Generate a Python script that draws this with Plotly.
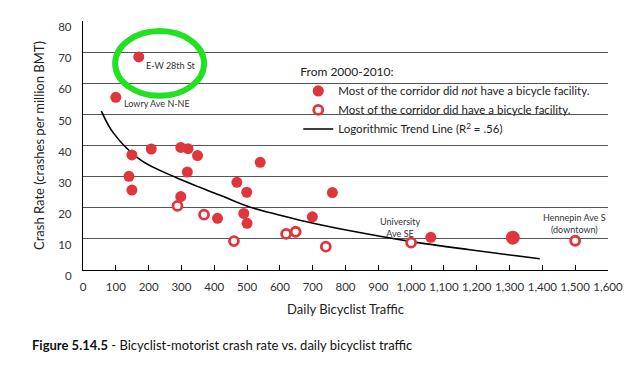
import plotly.graph_objects as go

# ---- data ----
no_facility_x = [170, 100, 149, 208, 298, 320, 349, 318, 540, 140, 149, 298, 410, 469, 499, 490, 500, 699, 760, 1060, 1310]
no_facility_y = [68.5, 55.5, 37.0, 38.9, 39.4, 39.0, 36.8, 31.5, 34.6, 30.1, 25.7, 23.6, 16.6, 28.2, 25.0, 18.2, 15.0, 17.1, 24.9, 10.5, 10.4]

facility_x = [288, 369, 460, 619, 648, 740, 1000, 1500]
facility_y = [20.6, 17.8, 9.3, 11.6, 12.3, 7.5, 8.8, 9.4]

trend_x = [56, 93, 175, 282, 358, 428, 510, 601, 661, 814, 997, 1179, 1392]
trend_y = [51.1, 44.0, 35.4, 29.8, 26.5, 23.6, 20.2, 17.6, 16.0, 12.6, 9.2, 6.5, 3.6]

x_ticks = list(range(0, 1700, 100))
y_ticks = list(range(0, 90, 10))

labels = [
    # (text, x, y, anchor)
    ("E-W 28th St", 187, 65.9, "left"),
    ("Lowry Ave N-NE", 120, 53.4, "left"),
    ("University<br>Ave SE", 967, 13.6, "center"),
    ("Hennepin Ave S<br>(downtown)", 1499, 15.0, "center"),
]

RED = "#e1353c"
FONT = "Lato"

fig = go.Figure()

fig.add_trace(go.Scatter(
    x=trend_x, y=trend_y, mode="lines",
    line=dict(color="black", width=1.6, shape="spline", smoothing=1.0),
    name="Logorithmic Trend Line (R<sup>2</sup> = .56)", legendrank=3,
))

sizes = [14 if x == 1310 else 11 for x in no_facility_x]
fig.add_trace(go.Scatter(
    x=no_facility_x, y=no_facility_y, mode="markers",
    marker=dict(color=RED, size=sizes, opacity=1, line=dict(width=0)),
    name="Most of the corridor did <i>not</i> have a bicycle facility.", legendrank=1,
))

fig.add_trace(go.Scatter(
    x=facility_x, y=facility_y, mode="markers",
    marker=dict(color="white", size=9, opacity=1, line=dict(color=RED, width=2.8)),
    name="Most of the corridor did have a bicycle facility.", legendrank=2,
))

for text, x, y, anchor in labels:
    fig.add_annotation(x=x, y=y, text=text, showarrow=False, xanchor=anchor,
                       yanchor="middle", font=dict(family=FONT, size=9, color="#333"))

# green highlight ellipse
fig.add_shape(type="circle", xref="x", yref="y", x0=98, x1=369, y0=56, y1=76.8,
              line=dict(color="#22e022", width=6))

# caption
fig.add_annotation(xref="paper", yref="paper", x=-0.101, y=-0.30, xanchor="left", yanchor="middle",
                   text="<b>Figure 5.14.5</b> - Bicyclist-motorist crash rate vs. daily bicyclist traffic",
                   showarrow=False, font=dict(family=FONT, size=13, color="#111"))

fig.update_layout(
    width=640, height=371,
    margin=dict(l=83, r=32, t=21, b=101),
    paper_bgcolor="white", plot_bgcolor="white",
    font=dict(family=FONT, size=12, color="#222"),
    showlegend=True,
    legend=dict(
        x=0.41, y=0.84, xanchor="left", yanchor="top",
        bgcolor="rgba(0,0,0,0)",
        title=dict(text="From 2000-2010:", font=dict(size=12)),
        font=dict(size=11.5),
        tracegroupgap=0, itemwidth=30,
    ),
    xaxis=dict(
        range=[0, 1600], tickvals=x_ticks, tickformat=",",
        showgrid=False, zeroline=False, automargin=False,
        showline=True, linecolor="black", linewidth=1.3,
        ticks="inside", ticklen=5, tickcolor="black", tickwidth=1.2,
        ticklabelstandoff=6,
        tickfont=dict(size=11.5, color="#333"),
        title=dict(text="Daily Bicyclist Traffic", font=dict(size=13, color="#222"), standoff=12),
    ),
    yaxis=dict(
        range=[0, 80.05], tickvals=y_ticks,
        showgrid=True, gridcolor="#555", gridwidth=1,
        zeroline=False, automargin=False,
        showline=True, linecolor="black", linewidth=1.3,
        ticks="", ticklabelshift=6, ticklabelstandoff=8,
        tickfont=dict(size=11.5, color="#333"),
        title=dict(text="Crash Rate (crashes per million BMT)", font=dict(size=13, color="#222"), standoff=10),
    ),
)

fig.write_html("out.html", config={"displayModeBar": False},
               post_script="document.body.style.margin='0';")
